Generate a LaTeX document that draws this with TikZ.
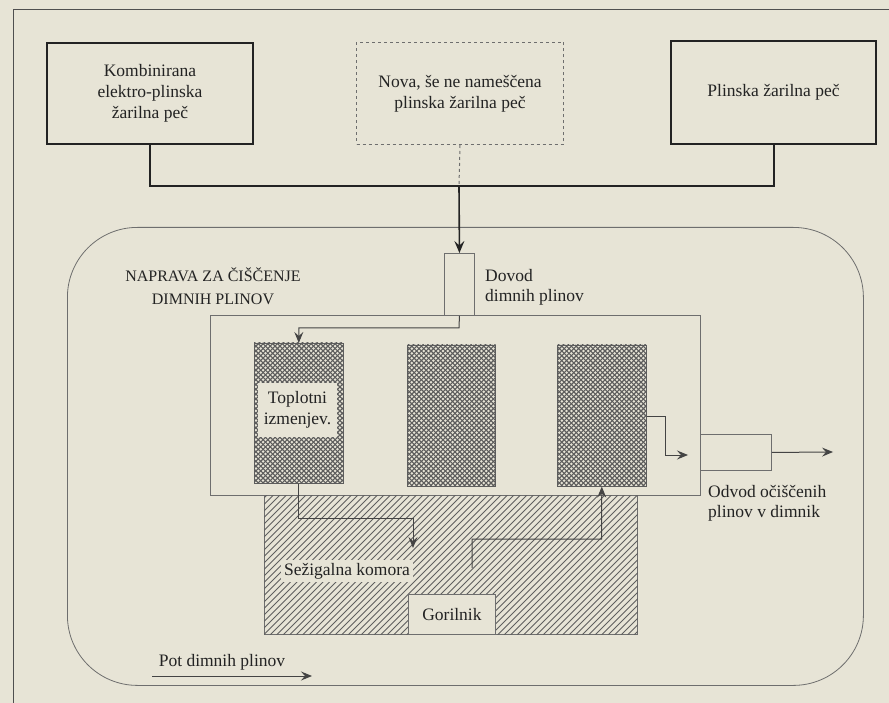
\documentclass[tikz,border=0pt]{standalone}
\usepackage{fontspec}
\setmainfont{Liberation Serif}
\usetikzlibrary{arrows.meta,calc}
\definecolor{paper}{RGB}{231,228,214}
\definecolor{ink}{RGB}{35,35,35}
\definecolor{thinc}{RGB}{110,110,110}
\definecolor{meshc}{RGB}{92,92,92}
\definecolor{hatchc}{RGB}{95,95,95}
\tikzset{
  topbox/.style={draw=ink, line width=2pt, align=center, inner sep=0pt, anchor=north west, text=ink},
  newbox/.style={draw=thinc, line width=1pt, dash pattern=on 3pt off 3pt, align=center, inner sep=0pt, anchor=north west, text=ink},
  thinbox/.style={draw=thinc, line width=0.9pt, inner sep=0pt, anchor=north west, text=ink},
  devbox/.style={draw=thinc, line width=0.8pt, rounded corners=70pt, inner sep=0pt, anchor=north west},
  blockbox/.style={draw=meshc, line width=0.6pt, inner sep=0pt, anchor=north west},
  lbl/.style={text=ink, inner sep=0pt},
  conn/.style={draw=ink, line width=2pt},
  arrmain/.style={draw=ink, line width=1.6pt, -{Stealth[length=12pt,width=10pt,inset=4.5pt]}},
  arr/.style={draw=ink!85, line width=1pt, -{Stealth[length=11pt,width=9pt,inset=4pt]}},
}
\newcommand\meshfill[1]{%
  \begin{scope}
    \clip (#1.south west) rectangle (#1.north east);
    \foreach \t in {-150,-145.2,...,100} {
      \draw[meshc, line width=1.1pt] ($(#1.south west)+(\t,0)$) -- ++(170,-170);
      \draw[meshc, line width=1.1pt] ($(#1.north west)+(\t,0)$) -- ++(170,170);
    }
  \end{scope}}
\begin{document}
\begin{tikzpicture}[x=1pt, y=-1pt, font=\fontsize{17.5}{21}\selectfont]
\useasboundingbox (0,0) rectangle (889,703);
\fill[paper] (0,0) rectangle (889,703);
% page frame
\draw[ink!80, line width=1pt] (13,703) -- (13,10) -- (889,10);

% top boxes
\node[topbox, minimum width=206pt, minimum height=101pt] (komb) at (46,42) {Kombinirana\\elektro-plinska\\žarilna peč};
\node[newbox, minimum width=207pt, minimum height=102pt] (nova) at (356,42) {Nova, še ne nameščena\\plinska žarilna peč};
\node[topbox, minimum width=205pt, minimum height=103pt] (plin) at (670,40) {Plinska žarilna peč};

% device outline
\node[devbox, minimum width=796pt, minimum height=458pt] (dev) at (67,227) {};
\node[lbl, align=center, font=\fontsize{16}{23}\selectfont] (naprava) at (213,286.5) {NAPRAVA ZA ČIŠČENJE\\DIMNIH PLINOV};

% inner unit
\node[thinbox, minimum width=490pt, minimum height=180pt] (unit) at (210,315) {};

% combustion chamber
\node[thinbox, minimum width=373pt, minimum height=139pt] (kom) at (264,495) {};
\begin{scope}
  \clip (kom.south west) rectangle (kom.north east);
  \foreach \t in {-150,-143.5,...,380} {
    \draw[hatchc, line width=0.9pt] ($(kom.south west)+(\t,0)$) -- ++(160,-160);
  }
\end{scope}

% heat exchanger blocks
\node[blockbox, minimum width=89pt, minimum height=140pt] (b1) at (254,343) {};
\node[blockbox, minimum width=88pt, minimum height=141pt] (b2) at (407,345) {};
\node[blockbox, minimum width=89pt, minimum height=141pt] (b3) at (557,345) {};
\meshfill{b1}
\meshfill{b2}
\meshfill{b3}
\node[fill=paper, lbl, align=center, minimum width=79pt, minimum height=54pt] (topl) at (297.5,410) {Toplotni\\izmenjev.};

% inlet / outlet boxes
\node[thinbox, fill=paper, minimum width=30pt, minimum height=62pt] (dovod) at (444,253) {};
\node[lbl, align=left, anchor=west, font=\fontsize{17.5}{20}\selectfont] (dovodl) at (485,287) {Dovod\\dimnih plinov};
\node[thinbox, minimum width=71pt, minimum height=36pt] (odvod) at (700,434) {};
\node[lbl, align=left, anchor=west, font=\fontsize{17.5}{20}\selectfont] (odvodl) at (708,503) {Odvod očiščenih\\plinov v dimnik};

% chamber labels
\node[fill=paper, lbl, inner xsep=3pt, inner ysep=3pt] (sez) at (347,571) {Sežigalna komora};
\node[thinbox, fill=paper, minimum width=87pt, minimum height=40pt] (gor) at (408,594) {Gorilnik};

% legend
\node[lbl] (pot) at (222,662) {Pot dimnih plinov};
\coordinate (p0) at (152,676);
\coordinate (p1) at (312,676);
\draw[arr] (p0) -- (p1);

% top connectors
\coordinate (junc) at (459,186);
\draw[conn] (komb.south) |- (junc) -| (plin.south);
\draw[thinc, line width=1pt, dash pattern=on 3pt off 3pt] (nova.south) -- (junc);
\draw[arrmain] (junc) -- (dovod.north);

% internal flow
\coordinate (d1) at (459,328);
\draw[arr] (dovod.south) -- (d1) -| (b1.north);
\coordinate (c2) at (413,518);
\coordinate (c3) at (413,548);
\draw[arr] (b1.south) |- (c2) -- (c3);
\coordinate (g1) at (472,568);
\coordinate (g2) at (601.5,539);
\draw[arr] (g1) |- (g2) -- (b3.south);
\coordinate (e1) at (665,416);
\coordinate (e2) at (688,455);
\draw[arr] (b3.east |- e1) -- (e1) |- (e2);
\coordinate (o1) at (833,452);
\draw[arr] (odvod.east) -- (o1);
\end{tikzpicture}
\end{document}
